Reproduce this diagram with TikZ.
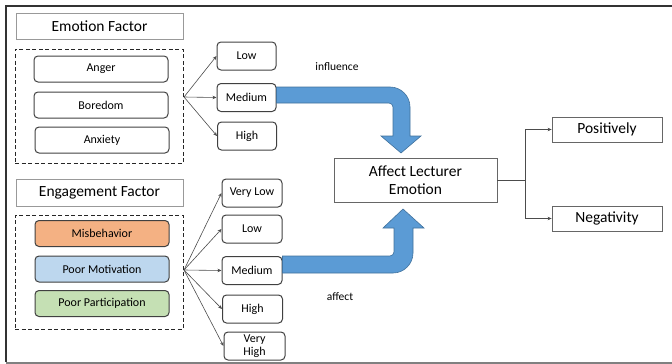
\documentclass[tikz,border=0pt]{standalone}
\usepackage{fontspec}
\setmainfont{Carlito}
\usetikzlibrary{arrows.meta,calc}
\definecolor{bluefill}{HTML}{5B9BD5}
\definecolor{blueline}{HTML}{41719C}
\definecolor{orangefill}{HTML}{F4B183}
\definecolor{lbluefill}{HTML}{BDD7EE}
\definecolor{greenfill}{HTML}{C5E0B4}
\definecolor{boxline}{HTML}{404040}
\tikzset{
  titlebox/.style={draw=gray!80, line width=0.8pt, minimum width=167pt, minimum height=26pt, font=\fontsize{15.5}{17}\selectfont, inner sep=0pt},
  factorbox/.style={draw=boxline, line width=1pt, rounded corners=4pt, minimum width=134pt, minimum height=26pt, font=\fontsize{12}{13}\selectfont, inner sep=0pt},
  levelbox/.style={draw=boxline, line width=1pt, rounded corners=4pt, minimum width=59pt, minimum height=28pt, font=\fontsize{12}{12.5}\selectfont, inner sep=0pt, align=center},
  groupbox/.style={draw=black!85, line width=1pt, dash pattern=on 4pt off 2.5pt},
  resultbox/.style={draw=boxline!80, line width=0.8pt, minimum width=110pt, minimum height=25pt, font=\fontsize{15.5}{17}\selectfont, inner sep=0pt},
  arr/.style={draw=black!70, line width=0.6pt, -{Stealth[length=4pt,width=3.5pt]}},
  bigarrow/.style={fill=bluefill, draw=blueline, line width=0.6pt},
  lbl/.style={font=\fontsize{11.5}{12}\selectfont, inner sep=0pt}
}
\begin{document}
\begin{tikzpicture}[x=1pt,y=-1pt]
\useasboundingbox (0,0) rectangle (672,364);
% frame
\draw[black!80, line width=1.2pt] (672,6) -- (6,6) -- (6,362);
\draw[gray, line width=2pt] (6,362.5) -- (672,362.5);

% emotion group
\node[titlebox] (ef) at (99.5,26.5) {Emotion Factor};
\node[groupbox, minimum width=168pt, minimum height=114pt, inner sep=0pt] (eg) at (99,106) {};
\node[factorbox] (anger) at (101,69) {Anger};
\node[factorbox] (bore) at (101,105) {Boredom};
\node[factorbox] (anx) at (102,140) {Anxiety};
\node[levelbox] (low1) at (246.5,56) {Low};
\node[levelbox] (med1) at (246.5,97.5) {Medium};
\node[levelbox] (high1) at (247,136) {High};
\coordinate (e1) at (184,97);
\draw[arr] (e1) -- (low1.west);
\draw[arr] (e1) -- (med1.west);
\draw[arr] (e1) -- (high1.west);

% engagement group
\node[titlebox, minimum height=27pt] (gf) at (99.5,192.5) {Engagement Factor};
\node[groupbox, minimum width=168pt, minimum height=114pt, inner sep=0pt] (gg) at (99,272) {};
\node[factorbox, fill=orangefill] (mis) at (102,233.5) {Misbehavior};
\node[factorbox, fill=lbluefill] (mot) at (102,269) {Poor Motivation};
\node[factorbox, fill=greenfill] (par) at (102,303.5) {Poor Participation};
\node[levelbox, minimum width=60pt] (vlow2) at (252,193) {Very Low};
\node[levelbox, minimum width=60pt] (low2) at (252,229) {Low};
\node[levelbox, minimum width=60pt] (med2) at (252,270.5) {Medium};
\node[levelbox, minimum width=60pt] (high2) at (252.5,309) {High};
\node[levelbox, minimum width=61pt, font=\fontsize{12}{13}\selectfont] (vhigh2) at (254.5,346) {Very\\High};
\coordinate (e2) at (184,270);
\draw[arr] (e2) -- (vlow2.west);
\draw[arr] (e2) -- (low2.west);
\draw[arr] (e2) -- (med2.west);
\draw[arr] (e2) -- (high2.west);
\draw[arr] (e2) -- (vhigh2.west);

% centre
\node[draw=boxline!80, line width=0.8pt, minimum width=163pt, minimum height=44pt, align=center, font=\fontsize{15.5}{18}\selectfont, inner sep=0pt] (aff) at (415.5,180) {Affect Lecturer\\Emotion};

% blue arrows
\draw[bigarrow] ([yshift=10.5pt]med1.east) -- (390,87) .. controls (401,87) and (410,96) .. (410,107) -- (410,136) -- (421,136) -- (401,153) -- (381,136) -- (393,136) -- (393,107) .. controls (393,105) and (391,103) .. (389,103) -- ([yshift=-5.5pt]med1.east) -- cycle;
\draw[bigarrow] ([yshift=14.5pt]med2.east) -- (390,256) .. controls (392,256) and (394,254) .. (394,252) -- (394,228) -- (383,228) -- (403,209) -- (424,228) -- (413,228) -- (413,253) .. controls (413,264) and (404,273) .. (393,273) -- ([yshift=-2.5pt]med2.east) -- cycle;
\node[lbl] (infl) at (337,67) {influence};
\node[lbl] (aft) at (340,297) {affect};

% results
\node[resultbox] (pos) at (607,129.5) {Positively};
\node[resultbox] (neg) at (607,218.5) {Negativity};
\coordinate (split) at (525,180);
\draw[black!70, line width=0.6pt] (aff.east) -- (split);
\draw[arr] (split) |- (pos.west);
\draw[arr] (split) |- (neg.west);
\end{tikzpicture}
\end{document}
